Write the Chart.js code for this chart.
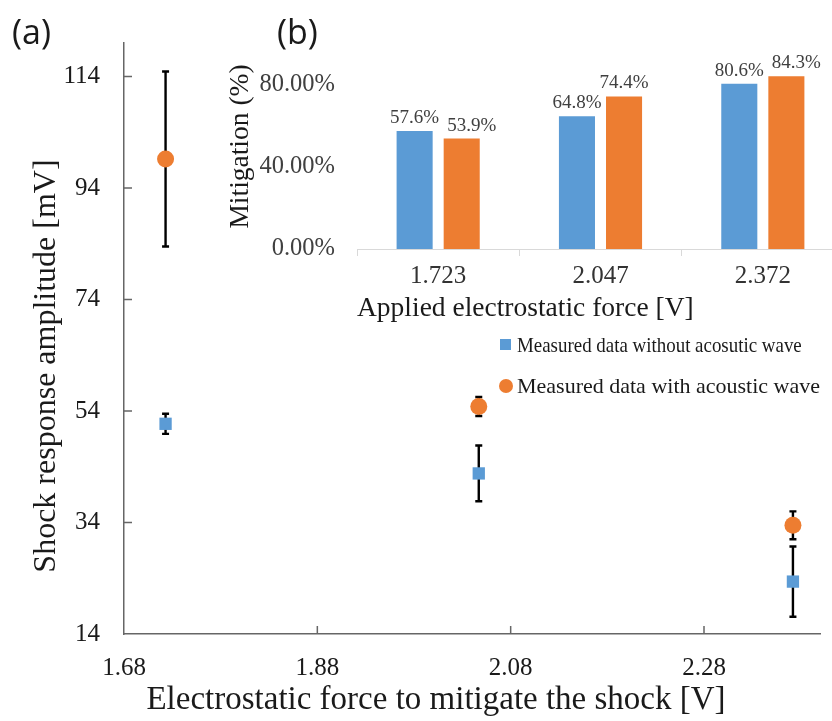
<!DOCTYPE html>
<html>
<head>
<meta charset="utf-8">
<script src="https://cdn.jsdelivr.net/npm/chart.js@4"></script>
<style>
  html, body { margin: 0; padding: 0; background: #fff; overflow: hidden; }
  #wrap { position: relative; width: 832px; height: 721px; overflow: hidden; }
  #main { position: absolute; left: 0; top: 0; }
  #inset { position: absolute; left: 200px; top: 20px; }
  .panel { position: absolute; font: 34px "Open Sans", "Noto Sans", sans-serif; color: #1a1a1a; line-height: 34px; }
  .leg { position: absolute; font: 22px "Liberation Serif", "Times New Roman", serif; color: #1a1a1a; line-height: 22px; white-space: nowrap; transform-origin: left center; }
  .mk { position: absolute; }
</style>
</head>
<body>
<div id="wrap">
  <canvas id="main" width="832" height="721"></canvas>
  <canvas id="inset" width="660" height="310"></canvas>
  <div class="panel" style="left:12px; top:14px;">(a)</div>
  <div class="panel" style="left:277px; top:14px;">(b)</div>
  <div class="mk" style="left:500px; top:339px; width:11px; height:11px; background:#5B9BD5;"></div>
  <div class="leg" style="left:517px; top:334px; transform:scaleX(0.86);">Measured data without acosutic wave</div>
  <div class="mk" style="left:499px; top:379px; width:14px; height:14px; border-radius:50%; background:#ED7D31;"></div>
  <div class="leg" style="left:517px; top:375px;">Measured data with acoustic wave</div>
</div>
<script>
// panel (a): shock response vs applied force
const forceV = [1.723, 2.047, 2.372];
const withoutWave = [51.7, 42.8, 23.4];
const withoutWaveErr = [1.8, 5.0, 6.3];
const withWave = [99.2, 54.8, 33.5];
const withWaveErr = [15.7, 1.7, 2.5];
const xTicks = [1.68, 1.88, 2.08, 2.28];
const yTicks = [14, 34, 54, 74, 94, 114];
const xTitle = 'Electrostatic force to mitigate the shock [V]';
const yTitle = 'Shock response amplitude [mV]';

// panel (b): mitigation inset
const barCategories = ['1.723', '2.047', '2.372'];
const mitigationWithout = [0.576, 0.648, 0.806];
const mitigationWith = [0.539, 0.744, 0.843];
const pctTicks = [0, 0.4, 0.8];

const serif = '"Liberation Serif", "Times New Roman", serif';
const blue = '#5B9BD5';
const orange = '#ED7D31';
const axisColor = '#666666';

Chart.defaults.font.family = serif;

function points(xs, ys) {
    return xs.map((x, i) => ({x: x, y: ys[i]}));
}

const errorBars = {
    id: 'errorBars',
    beforeDatasetsDraw(chart) {
        const {ctx, scales: {x, y}} = chart;
        ctx.save();
        ctx.strokeStyle = '#000';
        ctx.lineWidth = 2.4;
        chart.data.datasets.forEach(ds => {
            ds.data.forEach((p, i) => {
                const px = x.getPixelForValue(p.x);
                const top = y.getPixelForValue(p.y + ds.errors[i]);
                const bot = y.getPixelForValue(p.y - ds.errors[i]);
                ctx.beginPath();
                ctx.moveTo(px, top); ctx.lineTo(px, bot);
                ctx.moveTo(px - 3.5, top); ctx.lineTo(px + 3.5, top);
                ctx.moveTo(px - 3.5, bot); ctx.lineTo(px + 3.5, bot);
                ctx.stroke();
            });
        });
        ctx.restore();
    }
};

// excel style tick marks pointing into the plot
const innerTicks = {
    id: 'innerTicks',
    afterDraw(chart) {
        const {ctx, chartArea, scales: {x, y}} = chart;
        ctx.save();
        ctx.strokeStyle = axisColor;
        ctx.lineWidth = 1.5;
        ctx.beginPath();
        x.ticks.forEach(t => {
            const px = x.getPixelForValue(t.value);
            if (px <= chartArea.left + 1) return;
            ctx.moveTo(px, chartArea.bottom); ctx.lineTo(px, chartArea.bottom - 8);
        });
        y.ticks.forEach(t => {
            const py = y.getPixelForValue(t.value);
            if (py >= chartArea.bottom - 1) return;
            ctx.moveTo(chartArea.left, py); ctx.lineTo(chartArea.left + 8, py);
        });
        ctx.stroke();
        ctx.restore();
    }
};

// the axis titles sit off-centre in the original, so place them by hand
const axisTitles = {
    id: 'axisTitles',
    afterDraw(chart) {
        const {ctx, chartArea: a} = chart;
        ctx.save();
        ctx.font = '33px ' + serif;
        ctx.fillStyle = '#1a1a1a';
        ctx.textAlign = 'center';
        ctx.textBaseline = 'middle';
        ctx.fillText(xTitle, a.left + 312, a.bottom + 66);
        ctx.font = '32px ' + serif;
        ctx.translate(47, a.top + 323);
        ctx.rotate(-Math.PI / 2);
        ctx.fillText(yTitle, 0, 0);
        ctx.restore();
    }
};

new Chart(document.getElementById('main'), {
    type: 'scatter',
    data: {
        datasets: [
            {label: 'Measured data without acosutic wave', data: points(forceV, withoutWave), errors: withoutWaveErr,
             pointStyle: 'rect', pointRadius: 8.7, backgroundColor: blue, borderWidth: 0},
            {label: 'Measured data with acoustic wave', data: points(forceV, withWave), errors: withWaveErr,
             pointStyle: 'circle', pointRadius: 8.5, backgroundColor: orange, borderWidth: 0}
        ]
    },
    options: {
        responsive: false,
        animation: false,
        layout: {padding: {left: 0, right: 12, top: 43, bottom: 0}},
        plugins: {legend: {display: false}, tooltip: {enabled: false}},
        scales: {
            x: {
                type: 'linear', min: 1.68, max: 2.40,
                afterBuildTicks: s => { s.ticks = xTicks.map(v => ({value: v})); },
                afterFit: s => { s.height = 87; },
                grid: {display: false, drawTicks: false},
                border: {display: true, color: axisColor, width: 1.5},
                ticks: {font: {family: serif, size: 25}, color: '#1a1a1a', padding: 19, maxRotation: 0, autoSkip: false,
                        callback: v => v.toFixed(2)}
            },
            y: {
                min: 14, max: 120,
                afterBuildTicks: s => { s.ticks = yTicks.map(v => ({value: v})); },
                afterFit: s => { s.width = 124; },
                grid: {display: false, drawTicks: false},
                border: {display: true, color: axisColor, width: 1.5},
                ticks: {font: {family: serif, size: 25}, color: '#1a1a1a', padding: 24}
            }
        }
    },
    plugins: [errorBars, innerTicks, axisTitles]
});

// value labels above bars, nudged right when two in a group would collide
const barLabels = {
    id: 'barLabels',
    afterDatasetsDraw(chart) {
        const ctx = chart.ctx;
        ctx.save();
        ctx.font = '19px ' + serif;
        ctx.fillStyle = '#404040';
        ctx.textAlign = 'center';
        ctx.textBaseline = 'alphabetic';
        const n = chart.data.labels.length;
        for (let i = 0; i < n; i++) {
            let prev = null;
            chart.data.datasets.forEach((ds, di) => {
                const bar = chart.getDatasetMeta(di).data[i];
                const txt = (ds.data[i] * 100).toFixed(1) + '%';
                const w = ctx.measureText(txt).width;
                let cx = bar.x;
                const by = bar.y - 8;
                if (prev && Math.abs(prev.y - by) < 15 && cx - w / 2 < prev.right + 8) {
                    cx = prev.right + 8 + w / 2;
                }
                ctx.fillText(txt, cx, by);
                prev = {right: cx + w / 2, y: by};
            });
        }
        ctx.restore();
    }
};

new Chart(document.getElementById('inset'), {
    type: 'bar',
    data: {
        labels: barCategories,
        datasets: [
            {label: 'Measured data without acosutic wave', data: mitigationWithout, backgroundColor: blue},
            {label: 'Measured data with acoustic wave', data: mitigationWith, backgroundColor: orange}
        ]
    },
    options: {
        responsive: false,
        animation: false,
        categoryPercentage: 0.58,
        barPercentage: 0.766,
        layout: {padding: {left: 0, right: 16, top: 24, bottom: 0}},
        plugins: {legend: {display: false}, tooltip: {enabled: false}},
        scales: {
            x: {
                afterFit: s => { s.height = 81; },
                grid: {display: true, drawOnChartArea: false, drawTicks: true, tickLength: 7, color: '#d9d9d9', offset: true},
                border: {display: true, color: '#d9d9d9', width: 1},
                ticks: {font: {family: serif, size: 25}, color: '#333', padding: 5},
                title: {display: true, text: 'Applied electrostatic force [V]', align: 'start',
                        font: {family: serif, size: 27.5}, color: '#1a1a1a', padding: {top: 0, bottom: 5}}
            },
            y: {
                min: 0, max: 1,
                afterBuildTicks: s => { s.ticks = pctTicks.map(v => ({value: v})); },
                afterFit: s => { s.width = 157; s.paddingTop = 0; s.paddingBottom = 0; },
                grid: {display: false, drawTicks: false},
                border: {display: false},
                ticks: {font: {family: serif, size: 24.5}, color: '#404040', padding: 22,
                        callback: v => (v * 100).toFixed(2) + '%'},
                title: {display: true, text: 'Mitigation (%)',
                        font: {family: serif, size: 27.5}, color: '#1a1a1a', padding: {top: 24, bottom: 0}}
            }
        }
    },
    plugins: [barLabels]
});
</script>
</body>
</html>
